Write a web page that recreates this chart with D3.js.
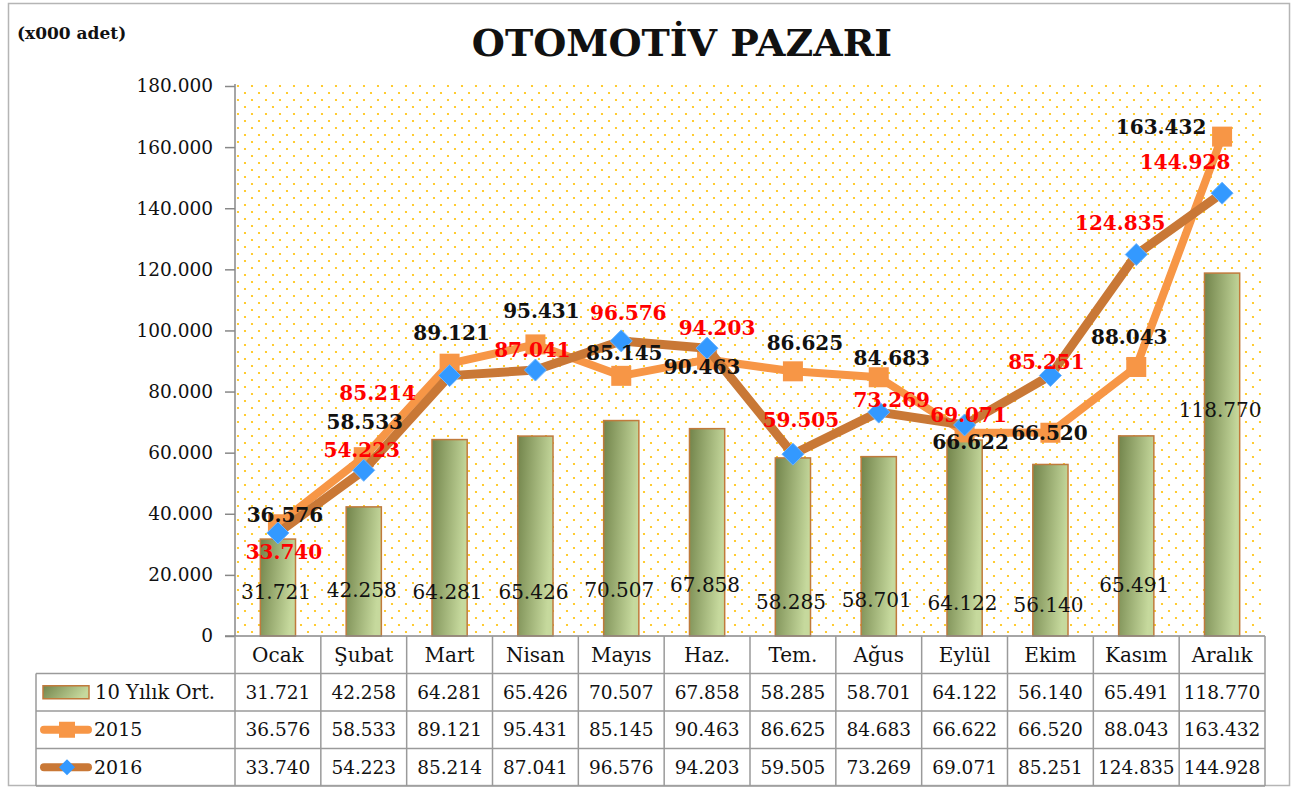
<!DOCTYPE html>
<html>
<head>
<meta charset="utf-8">
<script src="https://cdn.jsdelivr.net/npm/d3@7"></script>
<style>
	body { margin: 0; background: #fff; }
	svg { display: block; }
	text { font-family: "DejaVu Serif", serif; fill: #111; }
</style>
</head>
<body>
<div id="chart"></div>
<script>
// chart values (adet)
var months = ["Ocak", "Şubat", "Mart", "Nisan", "Mayıs", "Haz.", "Tem.", "Ağus", "Eylül", "Ekim", "Kasım", "Aralık"];
var avg10 = [31721, 42258, 64281, 65426, 70507, 67858, 58285, 58701, 64122, 56140, 65491, 118770];
var sales2015 = [36576, 58533, 89121, 95431, 85145, 90463, 86625, 84683, 66622, 66520, 88043, 163432];
var sales2016 = [33740, 54223, 85214, 87041, 96576, 94203, 59505, 73269, 69071, 85251, 124835, 144928];
var yTickValues = [0, 20000, 40000, 60000, 80000, 100000, 120000, 140000, 160000, 180000];
var seriesNames = ["10 Yılık Ort.", "2015", "2016"];

// label placement (offsets from the point, px)
var barLabelDy = [-44, -46, -44, -44, -46, -51, -34, -36, -33, -31, -51, -226];
var lbl2015 = [[7, -9], [1, -35], [2, -31], [6, -33], [3, -23], [-5, 7], [12, -28], [13, -19], [6, 10], [-1, 0], [-7, -30], [-61, -10]];
var lbl2016 = [[6, 19], [-2, -20], [-72, 17], [-3, -20], [7, -28], [10, -20], [8, -34], [13, -12], [4, -10], [-4, -14], [-16, -32], [-37, -31]];

var W = 1295, H = 787;
var plot = { left: 235, right: 1265, top: 84, bottom: 636 };
var rowH = 37.5;
var tableLeft = 36;

var tr = d3.formatLocale({ decimal: ",", thousands: ".", grouping: [3], currency: ["", ""] });
var fmt = tr.format(",");

var svg = d3.select("#chart").append("svg")
	.attr("width", W)
	.attr("height", H);

var defs = svg.append("defs");
var pat = defs.append("pattern")
	.attr("id", "dots")
	.attr("patternUnits", "userSpaceOnUse")
	.attr("x", plot.left)
	.attr("y", plot.top)
	.attr("width", 14)
	.attr("height", 14);
pat.append("circle").attr("cx", 3).attr("cy", 2).attr("r", 1.1).attr("fill", "#ffc000");
pat.append("circle").attr("cx", 10).attr("cy", 9).attr("r", 1.1).attr("fill", "#ffc000");

var grad = defs.append("linearGradient")
	.attr("id", "barGrad")
	.attr("x1", 0).attr("y1", 0)
	.attr("x2", 1).attr("y2", 0.25);
grad.append("stop").attr("offset", "0%").attr("stop-color", "#72844b");
grad.append("stop").attr("offset", "100%").attr("stop-color", "#c6d99d");

// outer frame
svg.append("rect")
	.attr("x", 8.5).attr("y", 3.5)
	.attr("width", 1281).attr("height", 782)
	.attr("fill", "#fff")
	.attr("stroke", "#b5b5b5")
	.attr("stroke-width", 1.5);

// titles
svg.append("text")
	.attr("x", 682)
	.attr("y", 56)
	.attr("text-anchor", "middle")
	.style("font-size", "38px")
	.style("font-weight", "bold")
	.text("OTOMOTİV PAZARI");
svg.append("text")
	.attr("x", 17)
	.attr("y", 39)
	.style("font-size", "17px")
	.style("font-weight", "bold")
	.text("(x000 adet)");

// scales
var x = d3.scaleBand()
	.domain(months)
	.range([plot.left, plot.right]);
var y = d3.scaleLinear()
	.domain([0, 180000])
	.range([plot.bottom, plot.top + 2]);

// plot background
svg.append("rect")
	.attr("x", plot.left).attr("y", plot.top)
	.attr("width", plot.right - plot.left)
	.attr("height", plot.bottom - plot.top)
	.attr("fill", "url(#dots)");

// y axis
var yAxis = svg.append("g")
	.attr("transform", "translate(" + plot.left + ",0)")
	.call(d3.axisLeft(y).tickValues(yTickValues).tickSize(10).tickPadding(12).tickFormat(fmt));
yAxis.select(".domain").remove();
yAxis.selectAll("line").attr("stroke", "#888").attr("stroke-width", 1.5);
yAxis.selectAll("text")
	.attr("fill", "#111")
	.style("font-size", "18.5px")
	.style("font-family", "'DejaVu Serif', serif");

// bars
var barW = x.bandwidth() * 0.41;
svg.append("g")
	.selectAll("rect")
	.data(avg10)
	.enter()
	.append("rect")
	.attr("x", function(d, i) { return x(months[i]) + (x.bandwidth() - barW) / 2; })
	.attr("y", function(d) { return y(d); })
	.attr("width", barW)
	.attr("height", function(d) { return y(0) - y(d); })
	.attr("fill", "url(#barGrad)")
	.attr("stroke", "#c07a3c")
	.attr("stroke-width", 1.5);

var cx = function(i) { return x(months[i]) + x.bandwidth() / 2; };

// lines
var line = d3.line()
	.x(function(d, i) { return cx(i); })
	.y(function(d) { return y(d); });

svg.append("path")
	.datum(sales2015)
	.attr("d", line)
	.attr("fill", "none")
	.attr("stroke", "#f79646")
	.attr("stroke-width", 8)
	.attr("stroke-linejoin", "round");
svg.append("g")
	.selectAll("rect")
	.data(sales2015)
	.enter()
	.append("rect")
	.attr("x", function(d, i) { return cx(i) - 10; })
	.attr("y", function(d) { return y(d) - 10; })
	.attr("width", 20)
	.attr("height", 20)
	.attr("fill", "#f79646");

svg.append("path")
	.datum(sales2016)
	.attr("d", line)
	.attr("fill", "none")
	.attr("stroke", "#c97836")
	.attr("stroke-width", 9)
	.attr("stroke-linejoin", "round");
svg.append("g")
	.selectAll("path")
	.data(sales2016)
	.enter()
	.append("path")
	.attr("d", "M0,-11L11,0L0,11L-11,0Z")
	.attr("transform", function(d, i) { return "translate(" + cx(i) + "," + y(d) + ")"; })
	.attr("fill", "#3399ff")
	.attr("stroke", "#6cb4ff")
	.attr("stroke-width", 1);

// data labels
svg.append("g")
	.selectAll("text")
	.data(avg10)
	.enter()
	.append("text")
	.attr("x", function(d, i) { return cx(i) - 2; })
	.attr("y", function(d, i) { return y(0) + barLabelDy[i]; })
	.attr("dy", "0.35em")
	.attr("text-anchor", "middle")
	.style("font-size", "20px")
	.text(function(d) { return fmt(d); });

svg.append("g")
	.selectAll("text")
	.data(sales2015)
	.enter()
	.append("text")
	.attr("x", function(d, i) { return cx(i) + lbl2015[i][0]; })
	.attr("y", function(d, i) { return y(d) + lbl2015[i][1]; })
	.attr("dy", "0.35em")
	.attr("text-anchor", "middle")
	.style("font-size", "20px")
	.style("font-weight", "bold")
	.text(function(d) { return fmt(d); });

svg.append("g")
	.selectAll("text")
	.data(sales2016)
	.enter()
	.append("text")
	.attr("x", function(d, i) { return cx(i) + lbl2016[i][0]; })
	.attr("y", function(d, i) { return y(d) + lbl2016[i][1]; })
	.attr("dy", "0.35em")
	.attr("text-anchor", "middle")
	.style("font-size", "20px")
	.style("font-weight", "bold")
	.style("fill", "#ff0000")
	.text(function(d) { return fmt(d); });

// data table
var tbl = svg.append("g");
var gridColor = "#9a9a9a";
// x axis line
tbl.append("line")
	.attr("x1", plot.left - 10).attr("x2", plot.right)
	.attr("y1", plot.bottom).attr("y2", plot.bottom)
	.attr("stroke", "#888").attr("stroke-width", 1.5);
// y axis line
tbl.append("line")
	.attr("x1", plot.left).attr("x2", plot.left)
	.attr("y1", plot.top).attr("y2", plot.bottom)
	.attr("stroke", "#888").attr("stroke-width", 1.5);

for (var r = 1; r <= 4; r++) {
	tbl.append("line")
		.attr("x1", tableLeft).attr("x2", plot.right)
		.attr("y1", plot.bottom + r * rowH).attr("y2", plot.bottom + r * rowH)
		.attr("stroke", gridColor).attr("stroke-width", 1.5);
}
tbl.append("line")
	.attr("x1", tableLeft).attr("x2", tableLeft)
	.attr("y1", plot.bottom + rowH).attr("y2", plot.bottom + 4 * rowH)
	.attr("stroke", gridColor).attr("stroke-width", 1.5);
months.forEach(function(m) {
	tbl.append("line")
		.attr("x1", x(m)).attr("x2", x(m))
		.attr("y1", plot.bottom).attr("y2", plot.bottom + 4 * rowH)
		.attr("stroke", gridColor).attr("stroke-width", 1.5);
});
tbl.append("line")
	.attr("x1", plot.right).attr("x2", plot.right)
	.attr("y1", plot.bottom).attr("y2", plot.bottom + 4 * rowH)
	.attr("stroke", gridColor).attr("stroke-width", 1.5);

// header
tbl.selectAll("text.month")
	.data(months)
	.enter()
	.append("text")
	.attr("class", "month")
	.attr("x", function(d, i) { return cx(i); })
	.attr("y", plot.bottom + rowH / 2)
	.attr("dy", "0.35em")
	.attr("text-anchor", "middle")
	.style("font-size", "20px")
	.text(function(d) { return d; });

var rows = [avg10, sales2015, sales2016];
rows.forEach(function(vals, r) {
	var cy = plot.bottom + rowH * (r + 1.5);
	tbl.append("g")
		.selectAll("text")
		.data(vals)
		.enter()
		.append("text")
		.attr("x", function(d, i) { return cx(i); })
		.attr("y", cy)
		.attr("dy", "0.35em")
		.attr("text-anchor", "middle")
		.style("font-size", "18.5px")
		.text(function(d) { return fmt(d); });
	tbl.append("text")
		.attr("x", r === 0 ? 95 : 94)
		.attr("y", cy)
		.attr("dy", "0.35em")
		.style("font-size", r === 0 ? "19.5px" : "19px")
		.text(seriesNames[r]);
});

// legend keys
var k1 = plot.bottom + rowH * 1.5;
tbl.append("rect")
	.attr("x", 43).attr("y", k1 - 6.5)
	.attr("width", 46).attr("height", 13)
	.attr("fill", "url(#barGrad)")
	.attr("stroke", "#c07a3c").attr("stroke-width", 1.5);
var k2 = plot.bottom + rowH * 2.5;
tbl.append("line")
	.attr("x1", 44).attr("x2", 88)
	.attr("y1", k2).attr("y2", k2)
	.attr("stroke", "#f79646").attr("stroke-width", 8).attr("stroke-linecap", "round");
tbl.append("rect")
	.attr("x", 59).attr("y", k2 - 8)
	.attr("width", 16).attr("height", 16)
	.attr("fill", "#f79646");
var k3 = plot.bottom + rowH * 3.5;
tbl.append("line")
	.attr("x1", 44).attr("x2", 88)
	.attr("y1", k3).attr("y2", k3)
	.attr("stroke", "#c97836").attr("stroke-width", 8).attr("stroke-linecap", "round");
tbl.append("path")
	.attr("d", "M0,-8L8,0L0,8L-8,0Z")
	.attr("transform", "translate(67," + k3 + ")")
	.attr("fill", "#3399ff");
</script>
</body>
</html>
